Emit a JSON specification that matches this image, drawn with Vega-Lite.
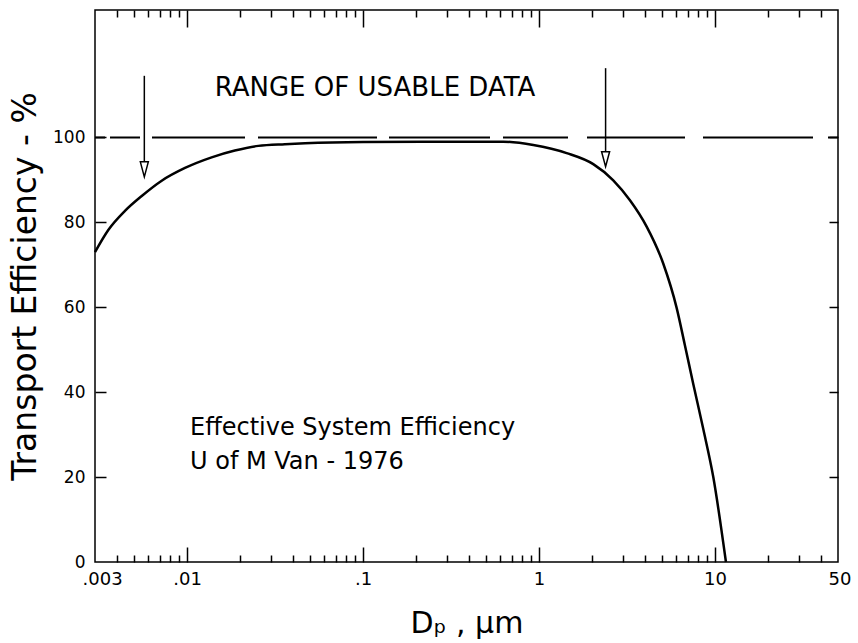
{
  "$schema": "https://vega.github.io/schema/vega-lite/v6.json",
  "width": 743,
  "height": 552,
  "autosize": {"type": "none"},
  "padding": {"left": 95, "top": 10, "right": 20, "bottom": 81},
  "background": "white",
  "config": {
    "view": {"stroke": "black", "strokeWidth": 1.5},
    "font": "DejaVu Sans",
    "axis": {
      "grid": false,
      "domain": false,
      "tickColor": "black",
      "tickWidth": 1.5,
      "labelColor": "black",
      "titleColor": "black",
      "labelFont": "DejaVu Sans",
      "titleFont": "DejaVu Sans",
      "titleFontWeight": "normal"
    }
  },
  "datasets": {
    "curve": [
      {"d": 0.003, "eff": 73.0},
      {"d": 0.00357, "eff": 78.2},
      {"d": 0.00444, "eff": 82.7},
      {"d": 0.00553, "eff": 86.2},
      {"d": 0.00718, "eff": 89.8},
      {"d": 0.00974, "eff": 92.8},
      {"d": 0.0138, "eff": 95.3},
      {"d": 0.0187, "eff": 96.9},
      {"d": 0.0254, "eff": 98.0},
      {"d": 0.036, "eff": 98.4},
      {"d": 0.0468, "eff": 98.6},
      {"d": 0.1, "eff": 98.9},
      {"d": 0.3, "eff": 99.0},
      {"d": 0.627, "eff": 99.0},
      {"d": 0.928, "eff": 98.2},
      {"d": 1.436, "eff": 96.3},
      {"d": 2.034, "eff": 93.7},
      {"d": 2.642, "eff": 89.9},
      {"d": 3.287, "eff": 85.2},
      {"d": 4.09, "eff": 79.0},
      {"d": 5.08, "eff": 70.3},
      {"d": 6.06, "eff": 59.8},
      {"d": 6.75, "eff": 51.0},
      {"d": 7.52, "eff": 42.0},
      {"d": 8.58, "eff": 31.3},
      {"d": 9.78, "eff": 20.0},
      {"d": 11.54, "eff": 0}
    ],
    "arrows": [
      {"d": 0.00572, "top": 114.5, "base": 94.2, "tip": 90.7},
      {"d": 2.39, "top": 116.3, "base": 96.6, "tip": 93.1}
    ],
    "ref": [{"eff": 100}],
    "heading": [{"d": 0.117, "eff": 111.6, "text": "RANGE OF USABLE DATA"}],
    "note": [
      {"d": 0.0104, "eff": 31.6, "text": "Effective System Efficiency"},
      {"d": 0.0104, "eff": 23.6, "text": "U of M Van - 1976"}
    ]
  },
  "layer": [
    {
      "data": {"name": "curve"},
      "mark": {"type": "line", "color": "black", "strokeWidth": 2.5, "interpolate": "monotone"},
      "encoding": {
        "x": {
          "field": "d", "type": "quantitative",
          "scale": {"type": "log", "domain": [0.003, 50]},
          "axis": {
            "orient": "bottom",
            "values": [0.003, 0.01, 0.1, 1, 10, 50],
            "labelExpr": "datum.value < 0.005 ? '.003' : datum.value < 0.05 ? '.01' : datum.value < 0.5 ? '.1' : format(datum.value, 'd')",
            "ticks": false,
            "domain": false,
            "labelFontSize": 18,
            "labelPadding": 8,
            "labelFlush": true,
            "labelFlushOffset": 13,
            "title": "Dₚ , μm",
            "titleFontSize": 30,
            "titlePadding": 20
          }
        },
        "y": {
          "field": "eff", "type": "quantitative",
          "scale": {"domain": [0, 130], "nice": false},
          "axis": {
            "orient": "left",
            "values": [0, 20, 40, 60, 80, 100],
            "ticks": false,
            "domain": false,
            "labelFontSize": 17,
            "labelPadding": 10,
            "title": "Transport Efficiency - %",
            "titleFontSize": 33,
            "titlePadding": 10
          }
        }
      }
    },
    {
      "data": {"name": "arrows"},
      "mark": {"type": "rule", "color": "black", "strokeWidth": 1.5},
      "encoding": {
        "x": {
          "field": "d", "type": "quantitative",
          "scale": {"type": "log", "domain": [0.003, 50]},
          "axis": {
            "orient": "top",
            "values": [0.01, 0.1, 1, 10],
            "labels": false,
            "domain": false,
            "offset": -17,
            "tickSize": 17,
            "title": null
          }
        },
        "y": {
          "field": "top", "type": "quantitative",
          "scale": {"domain": [0, 130], "nice": false},
          "axis": {
            "orient": "right",
            "values": [20, 40, 60, 80, 100],
            "labels": false,
            "domain": false,
            "offset": -9,
            "tickSize": 9,
            "title": null
          }
        },
        "y2": {"field": "base"}
      }
    },
    {
      "data": {"name": "arrows"},
      "mark": {"type": "point", "shape": "M-0.533,-2L0.533,-2L0,0Z", "size": 225, "filled": false, "stroke": "black", "strokeWidth": 1.5, "opacity": 1},
      "encoding": {
        "x": {
          "field": "d", "type": "quantitative",
          "scale": {"type": "log", "domain": [0.003, 50]},
          "axis": {
            "orient": "bottom",
            "values": [0.01, 0.1, 1, 10],
            "labels": false,
            "domain": false,
            "offset": -15,
            "tickSize": 15,
            "title": null
          }
        },
        "y": {
          "field": "tip", "type": "quantitative",
          "scale": {"domain": [0, 130], "nice": false},
          "axis": {
            "orient": "left",
            "values": [20, 40, 60, 80, 100],
            "labels": false,
            "domain": false,
            "offset": -11,
            "tickSize": 11,
            "title": null
          }
        }
      }
    },
    {
      "data": {"name": "ref"},
      "mark": {"type": "rule", "color": "black", "strokeWidth": 2, "strokeDash": [10, 15, 110, 18, 98, 19, 65, 13, 101, 12, 119, 13, 93, 12, 30, 5, 10, 5]},
      "encoding": {
        "y": {"field": "eff", "type": "quantitative", "scale": {"domain": [0, 130], "nice": false}, "axis": null}
      }
    },
    {
      "data": {"name": "heading"},
      "mark": {"type": "text", "fontSize": 26, "align": "center", "baseline": "middle", "color": "black", "font": "DejaVu Sans"},
      "encoding": {
        "x": {
          "field": "d", "type": "quantitative",
          "scale": {"type": "log", "domain": [0.003, 50]},
          "axis": {
            "orient": "top",
            "values": [0.004, 0.005, 0.006, 0.007, 0.008, 0.009, 0.02, 0.03, 0.04, 0.05, 0.06, 0.07, 0.08, 0.09, 0.2, 0.3, 0.4, 0.5, 0.6, 0.7, 0.8, 0.9, 2, 3, 4, 5, 6, 7, 8, 9, 20, 30, 40],
            "labels": false,
            "domain": false,
            "offset": -7,
            "tickSize": 7,
            "title": null
          }
        },
        "y": {"field": "eff", "type": "quantitative", "scale": {"domain": [0, 130], "nice": false}, "axis": null},
        "text": {"field": "text"}
      }
    },
    {
      "data": {"name": "note"},
      "mark": {"type": "text", "fontSize": 24, "align": "left", "baseline": "middle", "color": "black", "font": "DejaVu Sans"},
      "encoding": {
        "x": {
          "field": "d", "type": "quantitative",
          "scale": {"type": "log", "domain": [0.003, 50]},
          "axis": {
            "orient": "bottom",
            "values": [0.004, 0.005, 0.006, 0.007, 0.008, 0.009, 0.02, 0.03, 0.04, 0.05, 0.06, 0.07, 0.08, 0.09, 0.2, 0.3, 0.4, 0.5, 0.6, 0.7, 0.8, 0.9, 2, 3, 4, 5, 6, 7, 8, 9, 20, 30, 40],
            "labels": false,
            "domain": false,
            "offset": -7,
            "tickSize": 7,
            "title": null
          }
        },
        "y": {"field": "eff", "type": "quantitative", "scale": {"domain": [0, 130], "nice": false}, "axis": null},
        "text": {"field": "text"}
      }
    }
  ],
  "resolve": {"axis": {"x": "independent", "y": "independent"}}
}
